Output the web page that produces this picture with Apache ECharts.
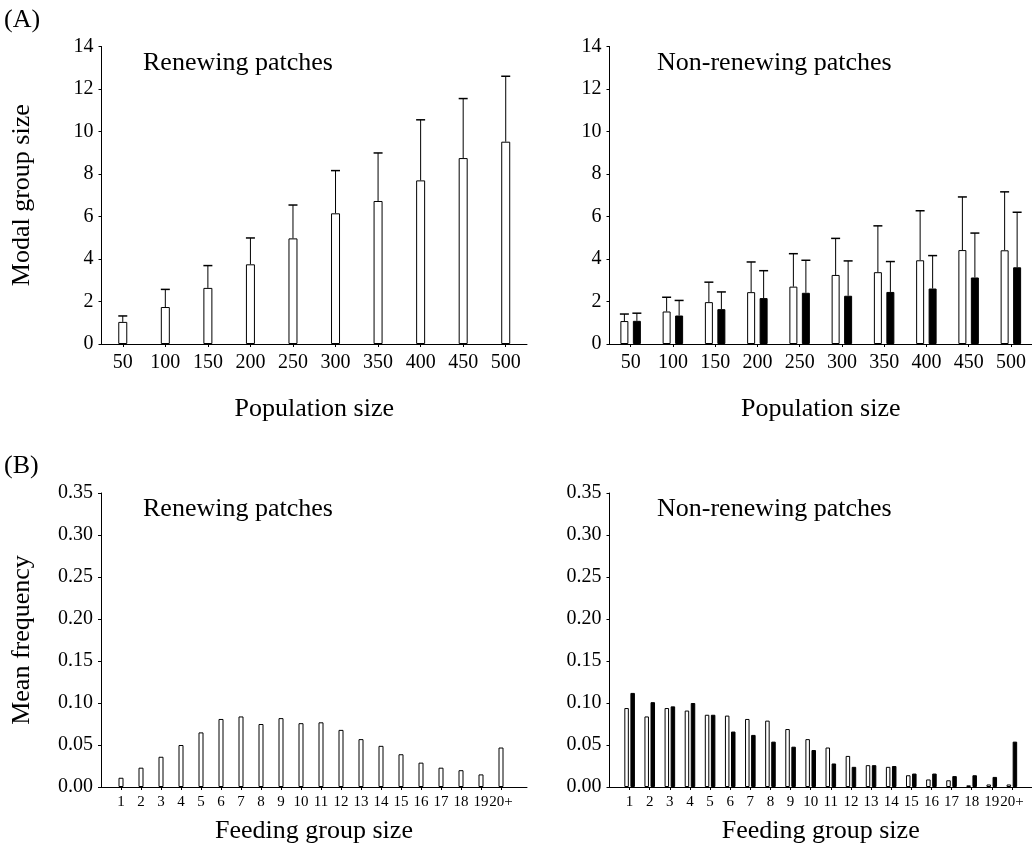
<html lang="en">
  <head>
    <meta charset="UTF-8" />
    <title>Group size</title>
  </head>
  <body style="margin: 0">
    <div id="main" style="width: 1032px; height: 848px"></div>

    <script src="https://cdn.jsdelivr.net/npm/echarts@6/dist/echarts.min.js"></script>
    <script>
      // (A) modal group size against population size
      const popSizes = ['50', '100', '150', '200', '250', '300', '350', '400', '450', '500']
      const renewMode = [1.04, 1.74, 2.64, 3.75, 4.97, 6.15, 6.73, 7.7, 8.75, 9.52]
      const renewModeErr = [1.32, 2.57, 3.69, 4.99, 6.54, 8.16, 8.99, 10.55, 11.55, 12.6]
      const nonRenewOpen = [1.08, 1.53, 1.97, 2.44, 2.7, 3.25, 3.38, 3.94, 4.42, 4.41]
      const nonRenewOpenErr = [1.41, 2.2, 2.91, 3.86, 4.25, 4.97, 5.56, 6.27, 6.92, 7.16]
      const nonRenewFilled = [1.09, 1.34, 1.64, 2.16, 2.41, 2.27, 2.45, 2.61, 3.13, 3.61]
      const nonRenewFilledErr = [1.45, 2.05, 2.45, 3.45, 3.94, 3.91, 3.88, 4.16, 5.22, 6.2]

      // (B) mean frequency of feeding group sizes
      const groupSizes = ['1', '2', '3', '4', '5', '6', '7', '8', '9', '10',
        '11', '12', '13', '14', '15', '16', '17', '18', '19', '20+']
      const renewFreq = [0.011, 0.023, 0.036, 0.05, 0.065, 0.081, 0.084, 0.075, 0.082, 0.076,
        0.077, 0.068, 0.057, 0.049, 0.039, 0.029, 0.023, 0.02, 0.015, 0.047]
      const nonRenewOpenFreq = [0.094, 0.084, 0.094, 0.091, 0.086, 0.085, 0.081, 0.079, 0.069, 0.057,
        0.047, 0.037, 0.026, 0.024, 0.014, 0.009, 0.008, 0.002, 0.003, 0.003]
      const nonRenewFilledFreq = [0.112, 0.101, 0.096, 0.1, 0.086, 0.066, 0.062, 0.054, 0.048, 0.044,
        0.028, 0.024, 0.026, 0.025, 0.016, 0.016, 0.013, 0.014, 0.012, 0.054]

      const font = '"Liberation Serif", "Times New Roman", serif'
      const groupIdx = groupSizes.map((c, i) => i + 1)

      // 误差线：竖线 + 顶端横帽
      function errorBar(offset, capW) {
        return function (params, api) {
          const lo = api.coord([api.value(0), api.value(1)])
          const hi = api.coord([api.value(0), api.value(2)])
          const x = lo[0] + offset
          return {
            type: 'group',
            children: [
              { type: 'line', shape: { x1: x, y1: lo[1], x2: x, y2: hi[1] }, style: { stroke: '#000', lineWidth: 1 } },
              { type: 'line', shape: { x1: x - capW / 2, y1: hi[1], x2: x + capW / 2, y2: hi[1] }, style: { stroke: '#000', lineWidth: 1.5 } }
            ]
          }
        }
      }
      const errData = (vals, tops) => vals.map((v, i) => [i, v, tops[i]])

      const axisLine = { lineStyle: { color: '#000', width: 1 } }
      const axisTick = { show: true, length: 3, lineStyle: { color: '#000' } }
      const nameStyle = { color: '#000', fontSize: 26, fontFamily: font }

      function catX(grid, name) {
        return {
          type: 'category', gridIndex: grid, data: popSizes,
          axisLine, axisTick: Object.assign({ alignWithLabel: true }, axisTick),
          axisLabel: { color: '#000', fontSize: 20, fontFamily: font, margin: 9 },
          name, nameLocation: 'middle', nameGap: 52, nameTextStyle: nameStyle
        }
      }
      function valX(grid, max, name) {
        return {
          type: 'value', gridIndex: grid, min: 0, max,
          splitLine: { show: false }, axisLine,
          axisTick: Object.assign({ customValues: groupIdx }, axisTick),
          axisLabel: {
            customValues: groupIdx, color: '#000', fontSize: 15, fontFamily: font, margin: 8,
            formatter: v => groupSizes[v - 1] || ''
          },
          name, nameLocation: 'middle', nameGap: 31, nameTextStyle: nameStyle
        }
      }
      function yAx(grid, max, interval, digits, name) {
        return {
          type: 'value', gridIndex: grid, min: 0, max, interval,
          splitLine: { show: false }, axisLine: Object.assign({ show: true }, axisLine), axisTick,
          axisLabel: { color: '#000', fontSize: 20, fontFamily: font, margin: 8, formatter: v => v.toFixed(digits) },
          name, nameLocation: 'middle', nameGap: 66, nameTextStyle: nameStyle
        }
      }

      const openBar = { color: '#fff', borderColor: '#000', borderWidth: 1 }
      const filledBar = { color: '#000', borderColor: '#000', borderWidth: 1 }

      const txt = (text, x, y) => ({
        type: 'text', x, y,
        style: { text, font: '26px ' + font, fill: '#000', textVerticalAlign: 'middle' }
      })

      const option = {
        animation: false,
        backgroundColor: '#fff',
        grid: [
          { left: 101.5, top: 46.5, width: 425.5, height: 297.5 },
          { left: 609.5, top: 46.5, width: 423, height: 297.5 },
          { left: 101, top: 493, width: 426, height: 294 },
          { left: 609.5, top: 493, width: 422.5, height: 294 }
        ],
        xAxis: [
          catX(0, 'Population size'),
          catX(1, 'Population size'),
          valX(2, 21.3, 'Feeding group size'),
          valX(3, 21, 'Feeding group size')
        ],
        yAxis: [
          yAx(0, 14, 2, 0, 'Modal group size'),
          yAx(1, 14, 2, 0, ''),
          yAx(2, 0.35, 0.05, 2, 'Mean frequency'),
          yAx(3, 0.35, 0.05, 2, '')
        ],
        graphic: [
          txt('(A)', 4, 20),
          txt('(B)', 4, 466),
          txt('Renewing patches', 143, 63),
          txt('Non-renewing patches', 657, 63),
          txt('Renewing patches', 143, 509),
          txt('Non-renewing patches', 657, 509)
        ],
        series: [
          { type: 'bar', xAxisIndex: 0, yAxisIndex: 0, data: renewMode, barWidth: 9, itemStyle: openBar },
          { type: 'custom', xAxisIndex: 0, yAxisIndex: 0, data: errData(renewMode, renewModeErr), renderItem: errorBar(0, 9) },

          { type: 'bar', xAxisIndex: 1, yAxisIndex: 1, data: nonRenewOpen, barWidth: 8, barGap: '56%', itemStyle: openBar },
          { type: 'bar', xAxisIndex: 1, yAxisIndex: 1, data: nonRenewFilled, barWidth: 8, barGap: '56%', itemStyle: filledBar },
          { type: 'custom', xAxisIndex: 1, yAxisIndex: 1, data: errData(nonRenewOpen, nonRenewOpenErr), renderItem: errorBar(-6.25, 9) },
          { type: 'custom', xAxisIndex: 1, yAxisIndex: 1, data: errData(nonRenewFilled, nonRenewFilledErr), renderItem: errorBar(6.25, 9) },

          { type: 'bar', xAxisIndex: 2, yAxisIndex: 2, data: renewFreq.map((v, i) => [groupIdx[i], v]), barWidth: 5, itemStyle: openBar },

          { type: 'bar', xAxisIndex: 3, yAxisIndex: 3, data: nonRenewOpenFreq.map((v, i) => [groupIdx[i], v]), barWidth: 4.5, barGap: '35%', itemStyle: openBar },
          { type: 'bar', xAxisIndex: 3, yAxisIndex: 3, data: nonRenewFilledFreq.map((v, i) => [groupIdx[i], v]), barWidth: 4.5, barGap: '35%', itemStyle: filledBar }
        ]
      }
      echarts.init(document.querySelector('#main')).setOption(option)
    </script>
  </body>
</html>
